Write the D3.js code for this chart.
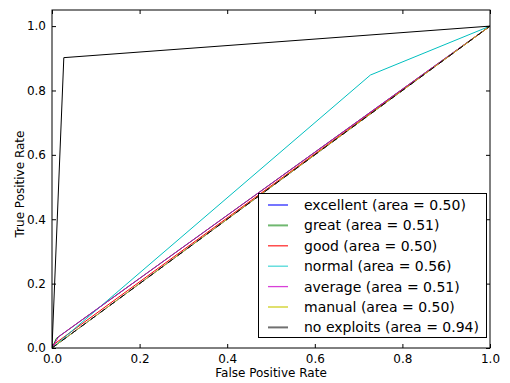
<!DOCTYPE html>
<html><head><meta charset="utf-8">
<script src="https://cdn.jsdelivr.net/npm/d3@7"></script>
<style>body{margin:0;background:#fff}svg{display:block}text{font-family:"DejaVu Sans",sans-serif;fill:#000}</style>
</head><body><svg id="c" width="510" height="383"></svg>
<script>
const seriesNames = ["excellent","great","good","normal","average","manual","no exploits"];
const seriesAreas = ["0.50","0.51","0.50","0.56","0.51","0.50","0.94"];
const seriesColors = ["#0000ff","#008000","#ff0000","#00bfbf","#bf00bf","#bfbf00","#000000"];
const legendColors = ["#2a2aff","#70b870","#ff3030","#50d8d8","#d840d8","#d0d020","#707070"];
const seriesFPR = [
  [0,1],
  [0,0.01,1],
  [0,0.005,1],
  [0,0.727,1],
  [0,0.015,1],
  [0,1],
  [0,0.027,1]
];
const seriesTPR = [
  [0,1],
  [0,0.03,1],
  [0,0.012,1],
  [0,0.848,1],
  [0,0.035,1],
  [0,1],
  [0,0.902,1]
];
const tickValues = [0,0.2,0.4,0.6,0.8,1.0];
const tickLabels = ["0.0","0.2","0.4","0.6","0.8","1.0"];

const svg = d3.select("#c");
const L=52,R=490,T=10,B=348;
const x = d3.scaleLinear().domain([0,1]).range([L,R]);
const y = d3.scaleLinear().domain([0,1.05]).range([B,T]);

svg.append("defs").append("clipPath").attr("id","clip").append("rect")
  .attr("x",L).attr("y",T).attr("width",R-L).attr("height",B-T);

const line = d3.line().x(d=>x(d[0])).y(d=>y(d[1]));
const g = svg.append("g").attr("clip-path","url(#clip)");
seriesNames.forEach((n,i)=>{
  const pts = seriesFPR[i].map((v,j)=>[v,seriesTPR[i][j]]);
  g.append("path").attr("d",line(pts)).attr("fill","none")
   .attr("stroke",seriesColors[i]).attr("stroke-width",1);
});
g.append("path").attr("d",line([[0,0],[1,1]])).attr("fill","none")
 .attr("stroke","#000").attr("stroke-width",1).attr("stroke-dasharray","6,6");

const fmt = (d)=>tickLabels[tickValues.indexOf(d)];
const ax = svg.append("g").attr("transform",`translate(0,${B})`)
  .call(d3.axisBottom(x).tickValues(tickValues).tickFormat(fmt).tickSizeInner(-4).tickSizeOuter(0).tickPadding(6));
const axT = svg.append("g").attr("transform",`translate(0,${T})`)
  .call(d3.axisTop(x).tickValues(tickValues).tickFormat("").tickSizeInner(-4).tickSizeOuter(0));
const ay = svg.append("g").attr("transform",`translate(${L},0)`)
  .call(d3.axisLeft(y).tickValues(tickValues).tickFormat(fmt).tickSizeInner(-4).tickSizeOuter(0).tickPadding(6));
const ayR = svg.append("g").attr("transform",`translate(${R},0)`)
  .call(d3.axisRight(y).tickValues(tickValues).tickFormat("").tickSizeInner(-4).tickSizeOuter(0));
[ax,axT,ay,ayR].forEach(a=>{a.select(".domain").remove();a.selectAll("text").attr("font-size",12).attr("font-family","DejaVu Sans");a.selectAll("line").attr("stroke","#000");});
ax.selectAll("text").attr("dy","0.71em");

svg.append("rect").attr("x",L).attr("y",T).attr("width",R-L).attr("height",B-T)
  .attr("fill","none").attr("stroke","#000").attr("stroke-width",1);

svg.append("text").attr("x",(L+R)/2).attr("y",377).attr("text-anchor","middle").attr("font-size",12).text("False Positive Rate");
svg.append("text").attr("transform",`translate(24,${(T+B)/2+5}) rotate(-90)`).attr("text-anchor","middle").attr("font-size",12).text("True Positive Rate");

const lg = svg.append("g");
lg.append("rect").attr("x",258.5).attr("y",193.5).attr("width",228).attr("height",144)
  .attr("fill","#fff").attr("stroke","#000").attr("stroke-width",1);
seriesNames.forEach((n,i)=>{
  const cy = 205 + i*20.4;
  lg.append("line").attr("x1",268).attr("x2",288).attr("y1",cy).attr("y2",cy)
    .attr("stroke",legendColors[i]).attr("stroke-width",i===1||i===6?2:1.3);
  lg.append("text").attr("x",304).attr("y",cy).attr("dy","0.35em").attr("font-size",14)
    .text(`${n} (area = ${seriesAreas[i]})`);
});
</script></body></html>
